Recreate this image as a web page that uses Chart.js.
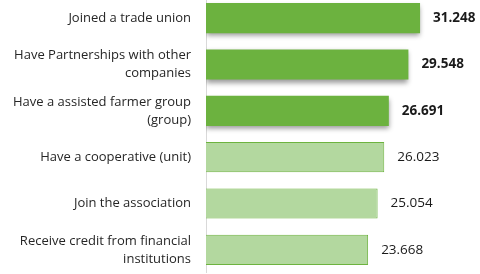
<!DOCTYPE html>
<html>
<head>
<meta charset="utf-8">
<script src="https://cdn.jsdelivr.net/npm/chart.js@4"></script>
<style>
  html, body { margin: 0; padding: 0; background: #fff; overflow: hidden; }
  #wrap { position: absolute; left: 0; top: -5px; width: 480px; height: 278px; }
</style>
</head>
<body>
<div id="wrap"><canvas id="chart"></canvas></div>
<script>
// ---- data ----
const categories = [
  'Joined a trade union',
  ['Have Partnerships with other', 'companies'],
  ['Have a assisted farmer group', '(group)'],
  'Have a cooperative (unit)',
  'Join the association',
  ['Receive credit from financial', 'institutions']
];
const topValues = [31.248, 29.548, 26.691, null, null, null];
const otherValues = [null, null, null, 26.023, 25.054, 23.668];
const valueLabels = ['31.248', '29.548', '26.691', '26.023', '25.054', '23.668'];

const FONT = "'Open Sans', sans-serif";

function vGradient(ctx, stops) {
  const area = ctx.chart.chartArea;
  const el = ctx.element;
  if (!area || !el) return stops[1];
  const top = el.y - el.height / 2, bottom = el.y + el.height / 2;
  if (!isFinite(top) || !isFinite(bottom) || top === bottom) return stops[1];
  const g = ctx.chart.ctx.createLinearGradient(0, top, 0, bottom);
  g.addColorStop(0, stops[0]);
  g.addColorStop(0.5, stops[1]);
  g.addColorStop(1, stops[2]);
  return g;
}

// shadow under the dark bars only
const shadowPlugin = {
  id: 'barShadow',
  beforeDatasetDraw(chart, args) {
    if (args.index !== 0) return;
    const c = chart.ctx;
    c.save();
    c.shadowColor = 'rgba(0,0,0,0.4)';
    c.shadowBlur = 5;
    c.shadowOffsetY = 3;
  },
  afterDatasetDraw(chart, args) {
    if (args.index !== 0) return;
    chart.ctx.restore();
  }
};

// value labels to the right of each bar
const valuePlugin = {
  id: 'values',
  afterDatasetsDraw(chart) {
    const c = chart.ctx;
    c.save();
    c.textBaseline = 'middle';
    c.textAlign = 'left';
    c.fillStyle = '#1a1a1a';
    chart.data.datasets.forEach((ds, di) => {
      chart.getDatasetMeta(di).data.forEach((bar, i) => {
        if (ds.data[i] == null) return;
        c.font = (di === 0 ? 'bold ' : '') + '13.5px ' + FONT;
        c.fillText(valueLabels[i], bar.x + 13, bar.y);
      });
    });
    c.restore();
  }
};

new Chart(document.getElementById('chart'), {
  type: 'bar',
  data: {
    labels: categories,
    datasets: [
      {
        data: topValues,
        backgroundColor: ctx => vGradient(ctx, ['#7fbe52', '#6cb23f', '#5ea233']),
        borderWidth: 0,
        categoryPercentage: 0.65,
        barPercentage: 1
      },
      {
        data: otherValues,
        backgroundColor: ctx => vGradient(ctx, ['#c0dfae', '#b3d89f', '#a9d293']),
        borderColor: '#6db33f',
        borderWidth: 1,
        borderSkipped: 'start',
        categoryPercentage: 0.65,
        barPercentage: 1
      }
    ]
  },
  options: {
    indexAxis: 'y',
    responsive: true,
    maintainAspectRatio: false,
    animation: false,
    layout: { padding: 0 },
    plugins: {
      legend: { display: false },
      tooltip: { enabled: false }
    },
    scales: {
      x: {
        display: false,
        min: 0,
        max: 40
      },
      y: {
        grid: { display: false },
        border: { display: true, color: '#d9d9d9', width: 1 },
        ticks: {
          padding: 7,
          color: '#262626',
          font: { family: FONT, size: 13, lineHeight: 1.38 },
          autoSkip: false
        },
        afterFit(scale) {
          scale.width = 206;
          scale.paddingTop = 0;
          scale.paddingBottom = 0;
        }
      }
    },
    datasets: { bar: { grouped: false } }
  },
  plugins: [shadowPlugin, valuePlugin]
});
</script>
</body>
</html>
